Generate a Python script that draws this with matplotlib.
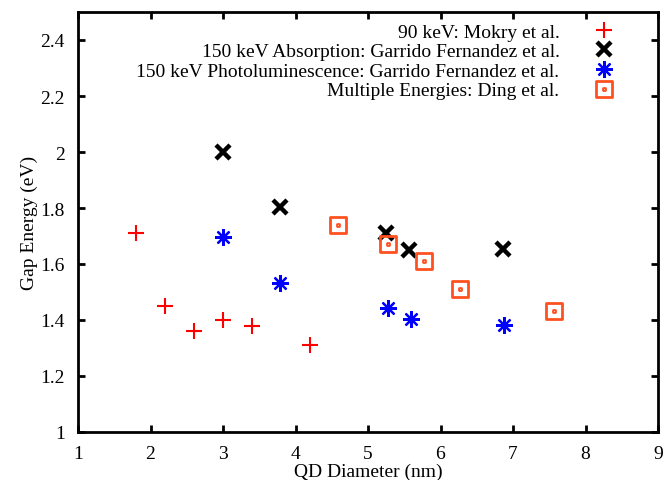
import matplotlib
matplotlib.use("Agg")
import matplotlib.pyplot as plt
from matplotlib.path import Path
from matplotlib.ticker import FuncFormatter, MultipleLocator

# data
mokry_d = [1.8, 2.2, 2.6, 3.0, 3.4, 4.2]
mokry_e = [1.71, 1.45, 1.36, 1.40, 1.38, 1.31]

abs_d = [3.0, 3.78, 5.25, 5.56, 6.86]
abs_e = [2.0, 1.805, 1.71, 1.65, 1.655]

pl_d = [3.0, 3.78, 5.27, 5.59, 6.88]
pl_e = [1.695, 1.532, 1.443, 1.405, 1.383]

ding_d = [4.58, 5.27, 5.77, 6.27, 7.57]
ding_e = [1.741, 1.67, 1.609, 1.509, 1.433]

labels = ["90 keV: Mokry et al.",
          "150 keV Absorption: Garrido Fernandez et al.",
          "150 keV Photoluminescence: Garrido Fernandez et al.",
          "Multiple Energies: Ding et al."]

FS = 14
plt.rcParams['font.family'] = ['Liberation Serif', 'DejaVu Serif']
plt.rcParams['font.size'] = FS

# square with a dot in the middle (gnuplot pt 4 style)
s, d = 1.0, 0.1
sq_dot = Path(
    [(-s, -s), (s, -s), (s, s), (-s, s), (-s, -s),
     (-d, -d), (d, -d), (d, d), (-d, d), (-d, -d)],
    [Path.MOVETO, Path.LINETO, Path.LINETO, Path.LINETO, Path.CLOSEPOLY,
     Path.MOVETO, Path.LINETO, Path.LINETO, Path.LINETO, Path.CLOSEPOLY])

fig = plt.figure(figsize=(6.68, 4.81), dpi=100)
ax = fig.add_axes([78 / 668, 1 - 433 / 481, 580 / 668, 420 / 481])

ax.plot(mokry_d, mokry_e, ls='none', marker='+', ms=11, mew=1.5,
        color='#ff0000', label=labels[0])
ax.plot(abs_d, abs_e, ls='none', marker='x', ms=10, mew=3.2,
        color='black', label=labels[1])
ax.plot(pl_d, pl_e, ls='none', marker=(8, 2, 0), ms=12, mew=1.6,
        color='#0000ff', label=labels[2])
ax.plot(ding_d, ding_e, ls='none', marker=sq_dot, ms=12, mew=2,
        mfc='none', color='#ff5020', label=labels[3])

ax.set_xlim(1, 9)
ax.set_ylim(1, 2.5)
ax.xaxis.set_major_locator(MultipleLocator(1))
ax.yaxis.set_major_locator(MultipleLocator(0.2))
ax.yaxis.set_major_formatter(FuncFormatter(lambda v, p: '' if v > 2.45 else '%g' % round(v, 2)))

ax.tick_params(direction='in', top=True, right=True, length=5, width=2,
               labelsize=FS)
ax.tick_params(axis='x', pad=9.5)
ax.tick_params(axis='y', pad=9.5)
for sp in ax.spines.values():
    sp.set_linewidth(2)

ax.set_xlabel("QD Diameter (nm)", fontsize=FS, labelpad=0)
ax.set_ylabel("Gap Energy (eV)", fontsize=FS, labelpad=1.5)

ax.legend(loc='upper right', bbox_to_anchor=(0.953, 0.992), markerfirst=False,
          frameon=False, handlelength=2.0, handletextpad=1.27,
          labelspacing=0.1, borderaxespad=0, fontsize=FS)

fig.savefig("out.png", dpi=100)
